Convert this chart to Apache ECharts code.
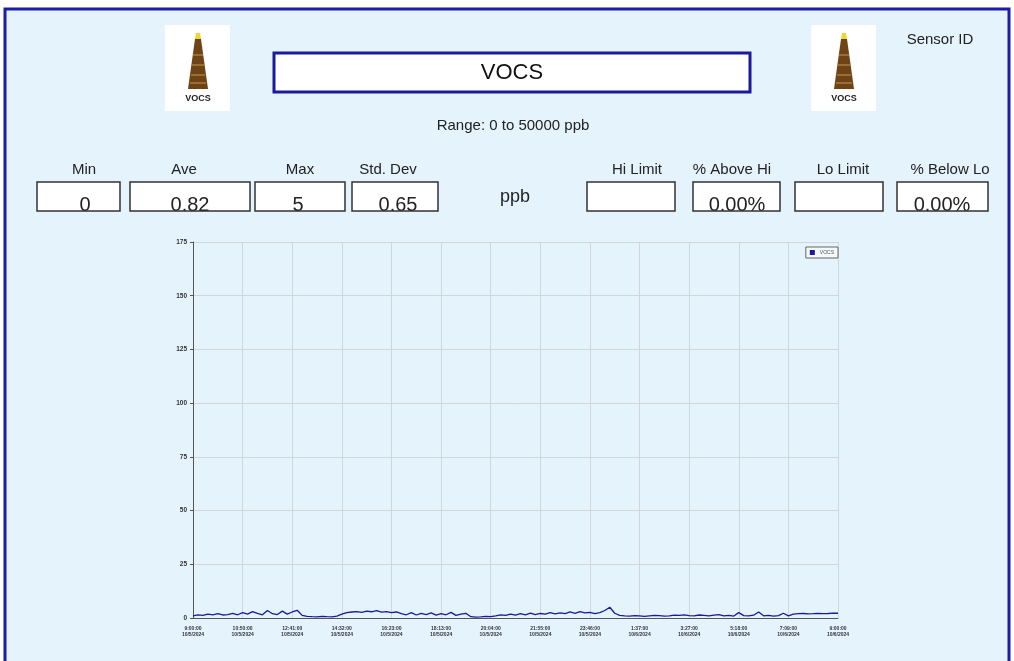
<!DOCTYPE html>
<html>
<head>
<meta charset="utf-8">
<script src="https://cdn.jsdelivr.net/npm/echarts@6/dist/echarts.min.js"></script>
<style>
  html, body { margin: 0; padding: 0; background: #fff; }
  #main { width: 1014px; height: 661px; }
</style>
</head>
<body>
<div id="main"></div>
<script>
    // readings, one every ~11 min from 9:00 to 9:00 next day
    var vocsValues = [
        1, 1.5, 1.2, 1.8, 1.5, 2, 1.4, 1.6, 2.2, 1.5,
        2.5, 1.8, 3, 2.2, 1.5, 3.5, 2, 1.6, 3.2, 1.8, 2.8, 3.6,
        1.2, 0.8, 0.6, 0.5, 0.8, 0.6, 0.5, 0.9, 1.8, 2.5,
        2.8, 3, 2.6, 3.2, 2.9, 3.4, 2.7, 3, 2.5, 2.8,
        2, 1.5, 2.5, 1.4, 2.2, 1.6, 2.4, 1.3, 2, 1.5, 2.6, 1.2, 1.8, 2.2,
        0.6, 0.4, 0.5, 0.8, 0.6,
        1, 1.5, 1.2, 1.8, 1.3, 2, 1.5, 2.3, 1.6, 2.1, 1.8, 2.5, 1.9, 2.4, 2, 2.8, 2.2, 3, 2.4, 2.6,
        2, 2.5, 3.5, 5, 2.2,
        1.2, 1, 0.9, 1.1, 1, 0.8, 1, 1.2, 1.1, 0.9, 1, 1.3, 1.2, 1.5, 1.1, 1, 1.4, 1.2, 1, 1.3,
        1.6, 1, 1.2, 0.9, 2.5, 1.1, 1, 1.3, 2.8, 1, 1.2, 0.9, 1.1, 2.2, 1,
        1.8, 2, 2.1, 1.9, 2, 2.2, 2, 2.1, 2.3, 2.2
    ];
    var tickTimes = ['9:00:00', '10:50:00', '12:41:00', '14:32:00', '16:23:00', '18:13:00', '20:04:00',
        '21:55:00', '23:46:00', '1:37:00', '3:27:00', '5:18:00', '7:09:00', '9:00:00'];
    var tickDates = ['10/5/2024', '10/5/2024', '10/5/2024', '10/5/2024', '10/5/2024', '10/5/2024', '10/5/2024',
        '10/5/2024', '10/5/2024', '10/6/2024', '10/6/2024', '10/6/2024', '10/6/2024', '10/6/2024'];
    var yTicks = [0, 25, 50, 75, 100, 125, 150, 175];

    var statNames = ['Min', 'Ave', 'Max', 'Std. Dev'];
    var statValues = ['0', '0.82', '5', '0.65'];
    var limitNames = ['Hi Limit', '% Above Hi', 'Lo Limit', '% Below Lo'];
    var limitValues = ['', '0.00%', '', '0.00%'];

    var FONT = '"Liberation Sans", Arial, sans-serif';
    var categories = vocsValues.map(function (v, i) { return i; });

    // box layout for the stat fields: [boxLeft, boxRight, labelCenter, valueCenter]
    var statBoxes = [[37, 120, 84, 85], [130, 250, 184, 190], [255, 345, 300, 298], [352, 438, 388, 398]];
    var limitBoxes = [[587, 675, 637, 631], [693, 780, 732, 737], [795, 883, 843, 839], [897, 988, 950, 942]];

    function logo(x) {
        return {
            type: 'group', left: x, top: 25,
            children: [
                {type: 'rect', shape: {x: 0, y: 0, width: 65, height: 86}, style: {fill: '#fff'}},
                {type: 'polygon', shape: {points: [[31, 8], [35, 8], [36, 14], [30, 14]]}, style: {fill: '#f2d43a'}},
                {type: 'polygon', shape: {points: [[30, 14], [36, 14], [43, 64], [23, 64]]}, style: {fill: '#6e4316'}},
                {type: 'line', shape: {x1: 28, y1: 30, x2: 38, y2: 30}, style: {stroke: '#c99a4a', lineWidth: 1}},
                {type: 'line', shape: {x1: 27, y1: 40, x2: 39, y2: 40}, style: {stroke: '#c99a4a', lineWidth: 1}},
                {type: 'line', shape: {x1: 26, y1: 50, x2: 40, y2: 50}, style: {stroke: '#c99a4a', lineWidth: 1}},
                {type: 'line', shape: {x1: 25, y1: 58, x2: 41, y2: 58}, style: {stroke: '#c99a4a', lineWidth: 1}},
                {type: 'text', x: 33, y: 74, style: {text: 'VOCS', font: 'bold 9px ' + FONT, fill: '#222', align: 'center', verticalAlign: 'middle'}}
            ]
        };
    }

    function fields(names, values, boxes) {
        var out = [];
        boxes.forEach(function (b, i) {
            out.push({type: 'text', x: b[2], y: 170, z: 5,
                style: {text: names[i], font: '15px ' + FONT, fill: '#222', align: 'center', verticalAlign: 'middle'}});
            out.push({type: 'rect', z: 3, shape: {x: b[0], y: 182, width: b[1] - b[0], height: 29},
                style: {fill: '#fff'}});
            out.push({type: 'text', x: b[3], y: 215, z: 4,
                style: {text: values[i], font: '20px ' + FONT, fill: '#222', align: 'center', verticalAlign: 'bottom'}});
            out.push({type: 'rect', z: 6, shape: {x: b[0], y: 182, width: b[1] - b[0], height: 29},
                style: {fill: null, stroke: '#333', lineWidth: 1.5}});
        });
        return out;
    }

    var graphics = [
        {type: 'rect', z: 0, shape: {x: 5, y: 9, width: 1004, height: 670},
            style: {fill: '#e5f3fc', stroke: '#1c1ca8', lineWidth: 3}},
        logo(165), logo(811),
        {type: 'rect', z: 4, shape: {x: 274, y: 53, width: 476, height: 39},
            style: {fill: '#fff', stroke: '#1a1a9a', lineWidth: 3}},
        {type: 'text', x: 512, y: 73, z: 5,
            style: {text: 'VOCS', font: '22px ' + FONT, fill: '#111', align: 'center', verticalAlign: 'middle'}},
        {type: 'text', x: 513, y: 126, z: 5,
            style: {text: 'Range: 0 to 50000 ppb', font: '15px ' + FONT, fill: '#222', align: 'center', verticalAlign: 'middle'}},
        {type: 'text', x: 940, y: 40, z: 5,
            style: {text: 'Sensor ID', font: '15px ' + FONT, fill: '#222', align: 'center', verticalAlign: 'middle'}},
        {type: 'text', x: 515, y: 197, z: 5,
            style: {text: 'ppb', font: '18px ' + FONT, fill: '#222', align: 'center', verticalAlign: 'middle'}}
    ].concat(fields(statNames, statValues, statBoxes), fields(limitNames, limitValues, limitBoxes));

    var chart = echarts.init(document.getElementById('main'));
    chart.setOption({
        backgroundColor: '#fff',
        animation: false,
        textStyle: {fontFamily: FONT},
        graphic: graphics,
        grid: {
            left: 193, right: 176, top: 242, bottom: 43,
            show: true, borderColor: '#777', borderWidth: 1, backgroundColor: 'transparent'
        },
        legend: {
            data: ['VOCS'],
            right: 176, top: 247,
            orient: 'vertical',
            icon: 'rect',
            itemWidth: 5, itemHeight: 5, itemGap: 2,
            padding: [3, 4, 3, 4],
            borderColor: '#666', borderWidth: 1,
            backgroundColor: '#f4f8fb',
            textStyle: {fontSize: 5, color: '#555', fontFamily: FONT}
        },
        xAxis: {
            type: 'category',
            data: categories,
            boundaryGap: false,
            axisLine: {lineStyle: {color: '#555'}},
            axisTick: {show: false},
            splitLine: {show: true, interval: 9, lineStyle: {color: '#d0d6da', width: 1}},
            axisLabel: {
                interval: 9,
                fontSize: 5, fontWeight: 'bold', color: '#334', lineHeight: 6,
                formatter: function (v, idx) {
                    var k = Math.round(idx / 10);
                    return tickTimes[k] + '\n' + tickDates[k];
                }
            }
        },
        yAxis: {
            type: 'value',
            min: yTicks[0], max: yTicks[yTicks.length - 1], interval: 25,
            axisLine: {show: true, lineStyle: {color: '#555'}},
            axisTick: {show: true, length: 3, lineStyle: {color: '#555'}},
            splitLine: {lineStyle: {color: '#d0d6da'}},
            axisLabel: {fontSize: 6.5, fontWeight: 'bold', color: '#333', margin: 6}
        },
        series: [{
            name: 'VOCS',
            type: 'line',
            data: vocsValues,
            symbol: 'none',
            color: '#1a1a9a',
            lineStyle: {width: 1.3, color: '#1a1a9a'}
        }]
    });
</script>
</body>
</html>
